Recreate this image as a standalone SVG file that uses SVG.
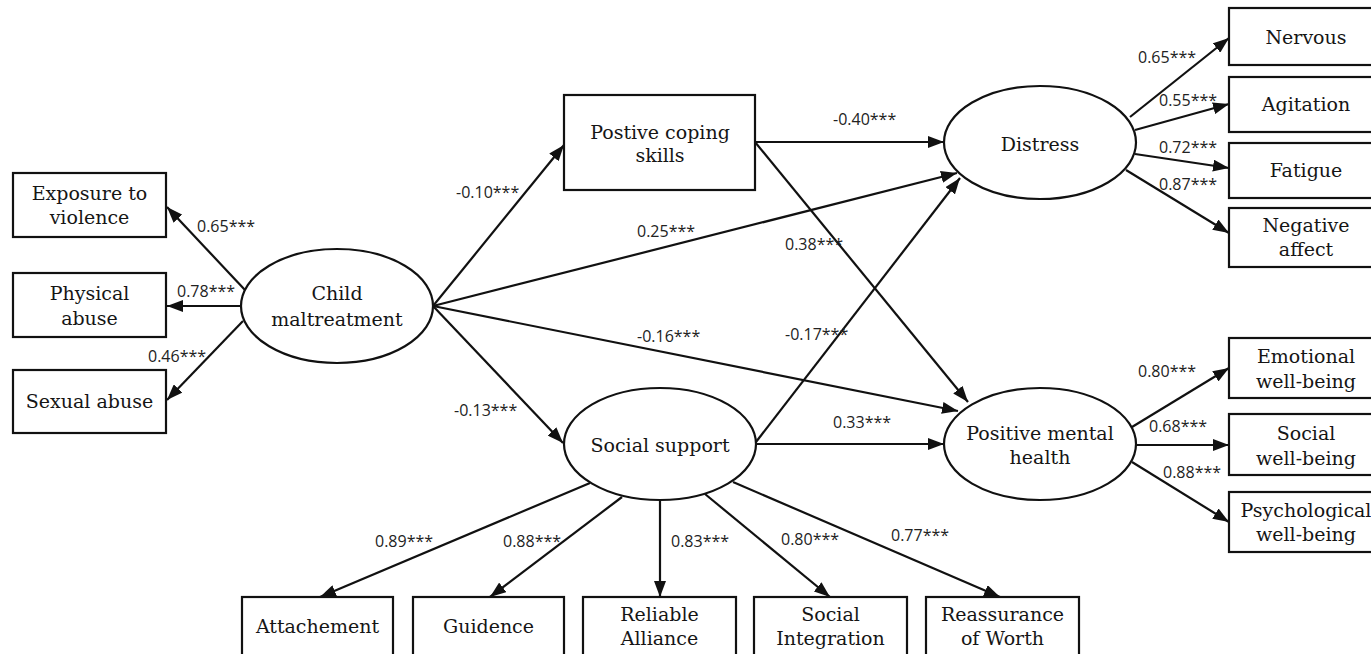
<svg xmlns="http://www.w3.org/2000/svg" width="1371" height="654" viewBox="0 0 1371 654">
  <style>
    .box { fill: #ffffff; stroke: #111111; stroke-width: 2.2; }
    .lat { fill: #ffffff; stroke: #111111; stroke-width: 2.2; }
    .nt { font-family: "DejaVu Serif", "Liberation Serif", serif; font-size: 19px; fill: #151515; text-anchor: middle; }
    .edge { stroke: #111111; stroke-width: 2.2; fill: none; marker-end: url(#arrow); }
    .coef { font-family: "Open Sans", "DejaVu Sans", sans-serif; font-size: 16px; fill: #222222; }
  </style>
  <defs>
    <marker id="arrow" markerUnits="userSpaceOnUse" markerWidth="16" markerHeight="12" refX="16" refY="6" orient="auto">
      <path d="M0,0 L16,6 L0,12 z" fill="#111111"/>
    </marker>
  </defs>
  <rect width="1371" height="654" fill="#ffffff"/>

  <!-- paths and loadings -->
  <g id="connectors">
    <line class="edge" x1="245" y1="290" x2="167" y2="207"/>
    <line class="edge" x1="241" y1="306" x2="167" y2="306"/>
    <line class="edge" x1="243" y1="321" x2="167" y2="400"/>
    <line class="edge" x1="433" y1="306" x2="564" y2="145"/>
    <line class="edge" x1="433" y1="306" x2="957" y2="173"/>
    <line class="edge" x1="433" y1="306" x2="958" y2="411"/>
    <line class="edge" x1="433" y1="306" x2="563" y2="443"/>
    <line class="edge" x1="755" y1="142" x2="944" y2="142"/>
    <line class="edge" x1="755" y1="142" x2="968" y2="402"/>
    <line class="edge" x1="756" y1="442" x2="960" y2="178"/>
    <line class="edge" x1="756" y1="444" x2="944" y2="444"/>
    <line class="edge" x1="590" y1="483" x2="320" y2="597"/>
    <line class="edge" x1="622" y1="497" x2="490" y2="597"/>
    <line class="edge" x1="660" y1="500" x2="660" y2="597"/>
    <line class="edge" x1="705" y1="494" x2="830" y2="597"/>
    <line class="edge" x1="733" y1="482" x2="1000" y2="597"/>
    <line class="edge" x1="1130" y1="117" x2="1229" y2="38"/>
    <line class="edge" x1="1135" y1="130" x2="1229" y2="104"/>
    <line class="edge" x1="1135" y1="154" x2="1229" y2="168"/>
    <line class="edge" x1="1126" y1="170" x2="1229" y2="233"/>
    <line class="edge" x1="1132" y1="427" x2="1229" y2="368"/>
    <line class="edge" x1="1136" y1="445" x2="1229" y2="445"/>
    <line class="edge" x1="1132" y1="462" x2="1229" y2="522"/>

    <text class="coef" x="197" y="232">0.65***</text>
    <text class="coef" x="177" y="297">0.78***</text>
    <text class="coef" x="148" y="362">0.46***</text>
    <text class="coef" x="456" y="198">-0.10***</text>
    <text class="coef" x="637" y="237">0.25***</text>
    <text class="coef" x="833" y="125">-0.40***</text>
    <text class="coef" x="785" y="250">0.38***</text>
    <text class="coef" x="637" y="342">-0.16***</text>
    <text class="coef" x="785" y="340">-0.17***</text>
    <text class="coef" x="454" y="416">-0.13***</text>
    <text class="coef" x="833" y="428">0.33***</text>
    <text class="coef" x="375" y="547">0.89***</text>
    <text class="coef" x="503" y="547">0.88***</text>
    <text class="coef" x="671" y="547">0.83***</text>
    <text class="coef" x="781" y="545">0.80***</text>
    <text class="coef" x="891" y="541">0.77***</text>
    <text class="coef" x="1138" y="63">0.65***</text>
    <text class="coef" x="1159" y="106">0.55***</text>
    <text class="coef" x="1159" y="153">0.72***</text>
    <text class="coef" x="1159" y="190">0.87***</text>
    <text class="coef" x="1138" y="377">0.80***</text>
    <text class="coef" x="1149" y="432">0.68***</text>
    <text class="coef" x="1163" y="478">0.88***</text>
  </g>

  <!-- child maltreatment indicators -->
  <g id="exposure">
    <rect class="box" x="13" y="173" width="153" height="64"/>
    <text class="nt" x="89.5" y="200">Exposure to</text>
    <text class="nt" x="89.5" y="224">violence</text>
  </g>
  <g id="physical">
    <rect class="box" x="13" y="273" width="153" height="64"/>
    <text class="nt" x="89.5" y="300">Physical</text>
    <text class="nt" x="89.5" y="325">abuse</text>
  </g>
  <g id="sexual">
    <rect class="box" x="13" y="370" width="153" height="63"/>
    <text class="nt" x="89.5" y="408">Sexual abuse</text>
  </g>

  <!-- latent variables -->
  <g id="child">
    <ellipse class="lat" cx="337" cy="306" rx="96" ry="57"/>
    <text class="nt" x="337" y="300">Child</text>
    <text class="nt" x="337" y="326">maltreatment</text>
  </g>
  <g id="coping">
    <rect class="box" x="564" y="95" width="191" height="95"/>
    <text class="nt" x="660" y="139">Postive coping</text>
    <text class="nt" x="660" y="162">skills</text>
  </g>
  <g id="social">
    <ellipse class="lat" cx="660" cy="444" rx="96" ry="56"/>
    <text class="nt" x="660" y="452">Social support</text>
  </g>
  <g id="distress">
    <ellipse class="lat" cx="1040" cy="142.5" rx="96" ry="56.5"/>
    <text class="nt" x="1040" y="151">Distress</text>
  </g>
  <g id="pmh">
    <ellipse class="lat" cx="1040" cy="444" rx="96" ry="56"/>
    <text class="nt" x="1040" y="440">Positive mental</text>
    <text class="nt" x="1040" y="464">health</text>
  </g>

  <!-- distress indicators -->
  <g id="nervous">
    <rect class="box" x="1229" y="8" width="155" height="57"/>
    <text class="nt" x="1306" y="44">Nervous</text>
  </g>
  <g id="agitation">
    <rect class="box" x="1229" y="77" width="155" height="55"/>
    <text class="nt" x="1306" y="111">Agitation</text>
  </g>
  <g id="fatigue">
    <rect class="box" x="1229" y="143" width="155" height="55"/>
    <text class="nt" x="1306" y="177">Fatigue</text>
  </g>
  <g id="negative">
    <rect class="box" x="1229" y="208" width="155" height="59"/>
    <text class="nt" x="1306" y="232">Negative</text>
    <text class="nt" x="1306" y="256">affect</text>
  </g>

  <!-- mental health indicators -->
  <g id="emotional">
    <rect class="box" x="1229" y="338" width="155" height="60"/>
    <text class="nt" x="1306" y="363">Emotional</text>
    <text class="nt" x="1306" y="388">well-being</text>
  </g>
  <g id="socialwb">
    <rect class="box" x="1229" y="414" width="155" height="61"/>
    <text class="nt" x="1306" y="440">Social</text>
    <text class="nt" x="1306" y="465">well-being</text>
  </g>
  <g id="psych">
    <rect class="box" x="1229" y="492" width="155" height="60"/>
    <text class="nt" x="1306" y="517">Psychological</text>
    <text class="nt" x="1306" y="541">well-being</text>
  </g>

  <!-- social support indicators -->
  <g id="attach">
    <rect class="box" x="242" y="597" width="151" height="64"/>
    <text class="nt" x="317.5" y="633">Attachement</text>
  </g>
  <g id="guid">
    <rect class="box" x="413" y="597" width="151" height="64"/>
    <text class="nt" x="488.5" y="633">Guidence</text>
  </g>
  <g id="reliable">
    <rect class="box" x="583" y="597" width="153" height="64"/>
    <text class="nt" x="659.5" y="621">Reliable</text>
    <text class="nt" x="659.5" y="645">Alliance</text>
  </g>
  <g id="integration">
    <rect class="box" x="754" y="597" width="153" height="64"/>
    <text class="nt" x="830.5" y="621">Social</text>
    <text class="nt" x="830.5" y="645">Integration</text>
  </g>
  <g id="reassurance">
    <rect class="box" x="926" y="597" width="153" height="64"/>
    <text class="nt" x="1002.5" y="621">Reassurance</text>
    <text class="nt" x="1002.5" y="645">of Worth</text>
  </g>
</svg>
